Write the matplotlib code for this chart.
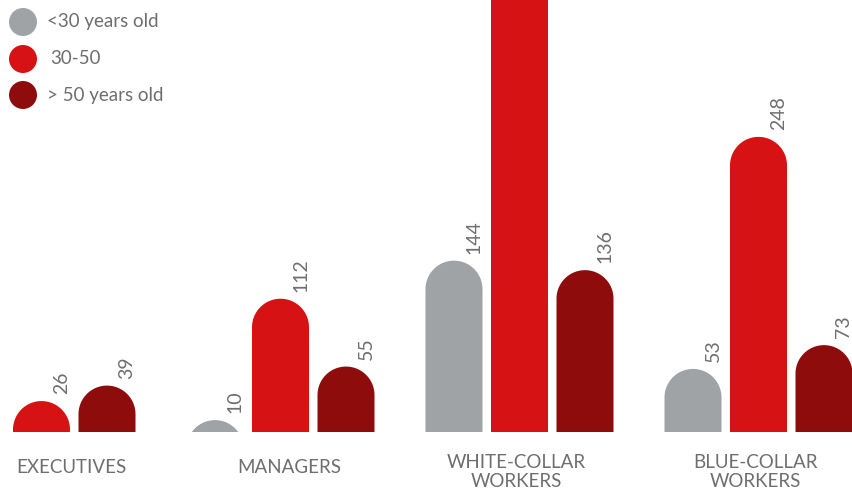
import numpy as np
import matplotlib
matplotlib.use("Agg")
import matplotlib.pyplot as plt
from matplotlib.patches import Polygon, Rectangle, Circle
from matplotlib.transforms import IdentityTransform

# Employees by age band and job category
categories = ["EXECUTIVES", "MANAGERS", "WHITE-COLLAR\nWORKERS", "BLUE-COLLAR\nWORKERS"]
series_names = ["<30 years old", "30-50", "> 50 years old"]
under_30 = [0, 10, 144, 53]
age_30_50 = [26, 112, 420, 248]
over_50 = [39, 55, 136, 73]

colors = ["#a0a3a5", "#d61214", "#8e0c0c"]
text_gray = "#6e6e6e"

W, H = 852, 492
DPI = 100
plt.rcParams["font.family"] = ["Lato", "DejaVu Sans"]

fig = plt.figure(figsize=(W / DPI, H / DPI), dpi=DPI)
ax = fig.add_axes([0, 0, 1, 1])
ax.set_axis_off()

# pixel geometry of the plot
PX_PER_UNIT = 1.19          # vertical pixels per employee
GROUP_PX = 239.0            # pixels between category centres
FIRST_PX = 41.5             # centre of the first category
BASE_PX = 60                # baseline height above bottom edge
ax.set_xlim(-FIRST_PX / GROUP_PX, (W - FIRST_PX) / GROUP_PX)
ymax = (H - BASE_PX) / PX_PER_UNIT
ax.set_ylim(-BASE_PX / PX_PER_UNIT, ymax)

bar_w = 57 / GROUP_PX
offset = 65.5 / GROUP_PX
rx = bar_w / 2
ry = (57 / 2) / PX_PER_UNIT


def rounded_bar(xc, v, color):
    if v <= 0:
        return
    cy = v - ry
    t = np.linspace(0, np.pi, 80)
    arc_x = xc + rx * np.cos(t)
    arc_y = cy + ry * np.sin(t)
    bottom = min(cy, 0) - 1
    xs = np.concatenate([[xc + rx], arc_x, [xc - rx]])
    ys = np.concatenate([[bottom], arc_y, [bottom]])
    poly = Polygon(np.column_stack([xs, ys]), closed=True, facecolor=color,
                   edgecolor="none", antialiased=True)
    ax.add_patch(poly)
    poly.set_clip_path(Rectangle((-10, 0), 100, 10000, transform=ax.transData))


x = np.arange(len(categories))
label_dx = 20 / GROUP_PX
label_dy = 7 / PX_PER_UNIT
for k, vals in enumerate([under_30, age_30_50, over_50]):
    for i, v in enumerate(vals):
        xc = x[i] + (k - 1) * offset
        rounded_bar(xc, v, colors[k])
        # value labels sit just above each rounded top (skip if off the chart)
        if 0 < v and v + label_dy + 30 / PX_PER_UNIT < ymax:
            ax.text(xc + label_dx, v + label_dy, str(v), rotation=90,
                    ha="center", va="bottom", fontsize=14, color=text_gray)

# category labels under the baseline
label_x = [x[0] + 0.123, x[1] + 0.036, x[2] - 0.015, x[3] - 0.013]
for lx, name in zip(label_x, categories):
    two_lines = "\n" in name
    y_top = (-22 if two_lines else -27) / PX_PER_UNIT
    ax.text(lx, y_top, name, ha="center", va="top",
            fontsize=13.5, color=text_gray, linespacing=1.13)

# legend with round markers (drawn in pixel units so they stay circular)
leg_y = [22, 59, 95]
leg_text_x = [47, 50, 47]
for k, name in enumerate(series_names):
    fig.patches.append(Circle((23, H - leg_y[k]), 14, transform=IdentityTransform(),
                              facecolor=colors[k], edgecolor="none"))
    fig.text(leg_text_x[k] / W, 1 - leg_y[k] / H, name, ha="left", va="center",
             fontsize=13.5, color=text_gray)

fig.savefig("out.png", dpi=DPI)
